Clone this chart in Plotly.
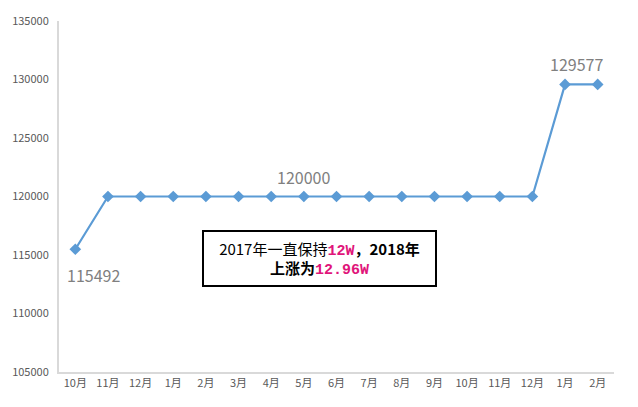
import plotly.graph_objects as go

months = ["10月", "11月", "12月", "1月", "2月", "3月", "4月", "5月", "6月",
          "7月", "8月", "9月", "10月", "11月", "12月", "1月", "2月"]
values = [115492, 120000, 120000, 120000, 120000, 120000, 120000, 120000, 120000,
          120000, 120000, 120000, 120000, 120000, 120000, 129577, 129577]
yticks = [105000, 110000, 115000, 120000, 125000, 130000, 135000]

x = list(range(len(months)))
color = "#5B9BD5"

fig = go.Figure()
fig.add_trace(go.Scatter(
    x=x, y=values, mode="lines+markers",
    line=dict(color=color, width=2.2),
    marker=dict(symbol="diamond", size=9, color=color),
    hoverinfo="skip",
))

lbl_font = dict(family="Microsoft YaHei, Noto Sans CJK SC, sans-serif", size=16, color="#808080")
fig.add_annotation(x=0, y=values[0], text=str(values[0]), showarrow=False,
                   xshift=18, yshift=-26, font=lbl_font)
fig.add_annotation(x=7, y=values[7], text=str(values[7]), showarrow=False,
                   yshift=20, font=lbl_font)
fig.add_annotation(x=15, y=values[15], text=str(values[15]), showarrow=False,
                   xshift=11, yshift=20, font=lbl_font)

pink = "#E0157A"
box_text = ("2017年一直保持<span style='color:%s;font-family:Liberation Mono'><b>12W</b></span><b>，2018年</b><br>"
            "<b>上涨为</b><span style='color:%s;font-family:Liberation Mono'><b>12.96W</b></span>") % (pink, pink)
fig.add_annotation(x=0.258, y=0.404, xref="paper", yref="paper", text=box_text,
                   showarrow=False, align="center",
                   font=dict(family="Noto Sans CJK SC, sans-serif", size=15, color="#000000"),
                   bordercolor="#000000", borderwidth=2, borderpad=6,
                   bgcolor="#ffffff", width=219, height=41, xanchor="left", yanchor="top")

tick_font = dict(family="Microsoft YaHei, Noto Sans CJK SC, sans-serif", size=11, color="#595959")
fig.update_layout(
    width=638, height=407,
    margin=dict(l=59, r=24, t=18, b=35),
    paper_bgcolor="#ffffff", plot_bgcolor="#ffffff",
    showlegend=False,
    xaxis=dict(tickmode="array", tickvals=x, ticktext=months, range=[-0.5, len(months) - 0.5],
               showgrid=False, zeroline=False, showline=True, linecolor="#d9d9d9", linewidth=2,
               ticks="", tickfont=tick_font, fixedrange=True),
    yaxis=dict(range=[105000, 135000], tickvals=yticks, ticktext=[str(v) for v in yticks],
               showgrid=False, zeroline=False, showline=True, linecolor="#d9d9d9", linewidth=2,
               ticks="", tickfont=tick_font, ticklabelstandoff=6, fixedrange=True),
)

fig.write_html("out.html", config={"displayModeBar": False},
               post_script="document.body.style.margin='0';document.body.style.overflow='hidden';")
